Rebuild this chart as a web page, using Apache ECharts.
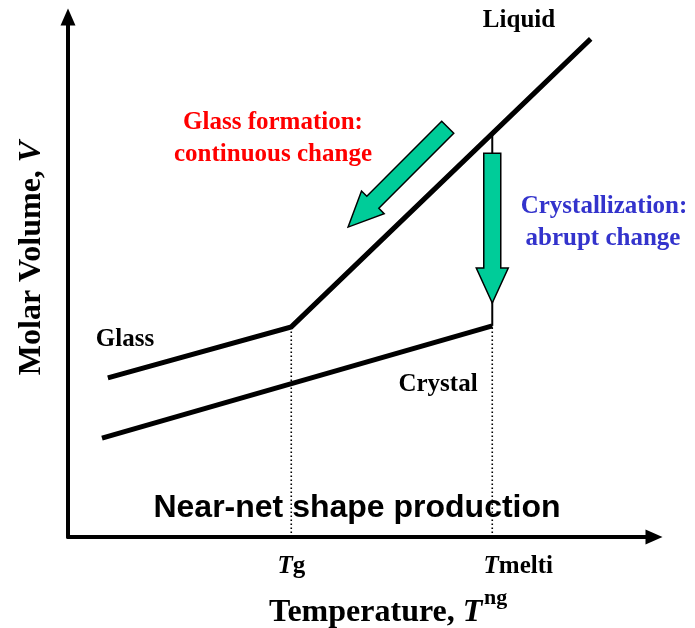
<!DOCTYPE html>
<html><head><meta charset="utf-8">
<script src="https://cdn.jsdelivr.net/npm/echarts@6/dist/echarts.min.js"></script>
<style>html,body{margin:0;padding:0;background:#fff}#c{width:695px;height:628px}</style>
</head><body><div id="c"></div>
<script>
// Temperature (T) / Molar volume (V) values, arbitrary units 0..100
const glassT = [6.8, 38.1];
const glassV = [30.6, 40.4];
const liquidT = [38.1, 89.2];
const liquidV = [40.4, 95.8];
const crystalT = [5.8, 72.4];
const crystalV = [19.0, 40.6];
const jumpT = [72.4, 72.4];
const jumpV = [77.6, 40.6];
const tickValues = [38.1, 72.4];
const tickLabels = ['Tg', 'Tmelti'];
// arrows: [tailT, tailV, tipT, tipV]
const arrowGlass = [64.8, 78.8, 47.8, 59.6];
const arrowCryst = [72.4, 73.8, 72.4, 45.0];

const SERIF = '"Liberation Serif","Times New Roman",serif';
const SANS = '"Liberation Sans",Arial,sans-serif';

const chart = echarts.init(document.getElementById('c'), null, {renderer: 'canvas'});

const blackLine = {color: '#000', width: 5, join: 'miter'};

chart.setOption({
  animation: false,
  backgroundColor: '#fff',
  grid: {left: 68, right: 41, top: 17, bottom: 91},
  xAxis: {
    type: 'value', min: 0, max: 100,
    splitLine: {show: false},
    axisTick: {show: false},
    axisLine: {show: true, lineStyle: {color: '#000', width: 4}, symbol: ['none', 'triangle'], symbolSize: [15, 17]},
    axisLabel: {
      customValues: tickValues,
      margin: 17,
      formatter: function (v) {
        const i = tickValues.indexOf(v);
        const s = tickLabels[i] || '';
        if (i === 1) return '{pad|}{i|' + s.charAt(0) + '}{n|' + s.slice(1) + '}';
        return '{i|' + s.charAt(0) + '}{n|' + s.slice(1) + '}';
      },
      rich: {
        i: {fontFamily: SERIF, fontStyle: 'italic', fontWeight: 'bold', fontSize: 25, color: '#000'},
        n: {fontFamily: SERIF, fontWeight: 'bold', fontSize: 25, color: '#000'},
        pad: {width: 52}
      }
    }
  },
  yAxis: {
    type: 'value', min: 0, max: 100,
    splitLine: {show: false},
    axisTick: {show: false},
    axisLabel: {show: false},
    axisLine: {show: true, lineStyle: {color: '#000', width: 4}, symbol: ['none', 'triangle'], symbolSize: [15, 17]}
  },
  series: [
    {
      name: 'Tg guide', type: 'line', symbol: 'none', z: 1,
      lineStyle: {color: '#000', width: 1.6, type: [1.6, 2.4]},
      data: [[tickValues[0], 0], [glassT[1], glassV[1]]]
    },
    {
      name: 'Tm guide', type: 'line', symbol: 'none', z: 1,
      lineStyle: {color: '#000', width: 1.6, type: [1.6, 2.4]},
      data: [[tickValues[1], 0], [crystalT[1], crystalV[1]]]
    },
    {
      name: 'Glass / Liquid', type: 'line', symbol: 'none', z: 3,
      lineStyle: blackLine,
      data: [[glassT[0], glassV[0]], [glassT[1], glassV[1]], [liquidT[1], liquidV[1]]]
    },
    {
      name: 'Crystal', type: 'line', symbol: 'none', z: 3,
      lineStyle: blackLine,
      data: [[crystalT[0], crystalV[0]], [crystalT[1], crystalV[1]]]
    },
    {
      name: 'Jump', type: 'line', symbol: 'none', z: 2,
      lineStyle: {color: '#000', width: 2},
      data: [[jumpT[0], jumpV[0]], [jumpT[1], jumpV[1]]]
    },
    {
      name: 'Arrows', type: 'custom', z: 4,
      encode: {x: [0, 2], y: [1, 3]},
      data: [arrowGlass, arrowCryst],
      renderItem: function (params, api) {
        const p0 = api.coord([api.value(0), api.value(1)]);
        const p1 = api.coord([api.value(2), api.value(3)]);
        const dx = p1[0] - p0[0], dy = p1[1] - p0[1];
        const L = Math.hypot(dx, dy);
        const ux = dx / L, uy = dy / L, nx = -uy, ny = ux;
        const sw = 8.5, hw = 16, hl = 35;
        const bx = p1[0] - ux * hl, by = p1[1] - uy * hl;
        const pts = [
          [p0[0] + nx * sw, p0[1] + ny * sw],
          [bx + nx * sw, by + ny * sw],
          [bx + nx * hw, by + ny * hw],
          [p1[0], p1[1]],
          [bx - nx * hw, by - ny * hw],
          [bx - nx * sw, by - ny * sw],
          [p0[0] - nx * sw, p0[1] - ny * sw]
        ];
        return {type: 'polygon', shape: {points: pts}, style: {fill: '#00cc99', stroke: '#000', lineWidth: 1.5}};
      }
    }
  ],
  graphic: [
    {type: 'text', x: 519, y: 21, style: {text: 'Liquid', font: 'bold 25px ' + SERIF, fill: '#000', align: 'center', verticalAlign: 'middle'}},
    {type: 'text', x: 273, y: 123, style: {text: 'Glass formation:', font: 'bold 25px ' + SERIF, fill: '#ff0000', align: 'center', verticalAlign: 'middle'}},
    {type: 'text', x: 273, y: 155, style: {text: 'continuous change', font: 'bold 25px ' + SERIF, fill: '#ff0000', align: 'center', verticalAlign: 'middle'}},
    {type: 'text', x: 604, y: 207, style: {text: 'Crystallization:', font: 'bold 25px ' + SERIF, fill: '#3333cc', align: 'center', verticalAlign: 'middle'}},
    {type: 'text', x: 603, y: 239, style: {text: 'abrupt change', font: 'bold 25px ' + SERIF, fill: '#3333cc', align: 'center', verticalAlign: 'middle'}},
    {type: 'text', x: 125, y: 340, style: {text: 'Glass', font: 'bold 25px ' + SERIF, fill: '#000', align: 'center', verticalAlign: 'middle'}},
    {type: 'text', x: 438, y: 385, style: {text: 'Crystal', font: 'bold 25px ' + SERIF, fill: '#000', align: 'center', verticalAlign: 'middle'}},
    {type: 'text', x: 357, y: 508, style: {text: 'Near-net shape production', font: 'bold 32px ' + SANS, fill: '#000', align: 'center', verticalAlign: 'middle'}},
    {type: 'text', x: 269, y: 613, style: {
      text: '{a|Temperature, }{b|T}', align: 'left', verticalAlign: 'middle',
      rich: {
        a: {fontFamily: SERIF, fontWeight: 'bold', fontSize: 32, fill: '#000'},
        b: {fontFamily: SERIF, fontWeight: 'bold', fontStyle: 'italic', fontSize: 32, fill: '#000'}
      }
    }},
    {type: 'text', x: 484, y: 598, style: {text: 'ng', font: 'bold 22px ' + SERIF, fill: '#000', align: 'left', verticalAlign: 'middle'}},
    {type: 'text', x: 32, y: 258, rotation: Math.PI / 2, style: {
      text: '{a|Molar Volume, }{b|V}', align: 'center', verticalAlign: 'middle',
      rich: {
        a: {fontFamily: SERIF, fontWeight: 'bold', fontSize: 32, fill: '#000'},
        b: {fontFamily: SERIF, fontWeight: 'bold', fontStyle: 'italic', fontSize: 32, fill: '#000'}
      }
    }}
  ]
});
</script>
</body></html>
